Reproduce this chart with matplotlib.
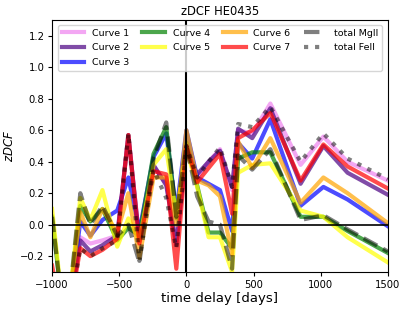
import matplotlib
matplotlib.use("Agg")
import matplotlib.pyplot as plt

# time lags of the zDCF bins [days]
lags = [-1000, -900, -790, -715, -625, -515, -432, -350, -245, -150, -75, 0,
        80, 165, 250, 340, 385, 490, 625, 850, 1020, 1200, 1500]

curve1 = [-0.35, -0.7, -0.08, -0.12, -0.10, -0.07, 0.56, -0.10, 0.37, 0.26, -0.12, 0.50,
          0.30, 0.40, 0.48, 0.22, 0.60, 0.58, 0.77, 0.38, 0.56, 0.40, 0.28]
curve2 = [-0.35, -0.7, -0.10, -0.17, -0.13, -0.07, 0.57, -0.10, 0.38, 0.25, -0.13, 0.48,
          0.32, 0.40, 0.47, 0.24, 0.61, 0.55, 0.74, 0.26, 0.50, 0.33, 0.19]
curve3 = [-0.40, -0.7, 0.02, -0.07, 0.03, 0.09, 0.30, -0.04, 0.43, 0.58, 0.08, 0.60,
          0.30, 0.26, 0.22, -0.04, 0.52, 0.42, 0.67, 0.12, 0.24, 0.16, -0.01]
curve4 = [0.05, -0.7, 0.12, 0.02, 0.10, -0.10, -0.02, -0.07, 0.45, 0.62, 0.04, 0.52,
          0.25, -0.05, -0.05, -0.15, 0.42, 0.46, 0.46, 0.05, 0.05, -0.04, -0.18]
curve5 = [0.10, -0.7, 0.17, 0.03, 0.22, -0.14, 0.04, -0.10, 0.38, 0.48, 0.06, 0.48,
          0.24, -0.08, -0.08, -0.30, 0.33, 0.38, 0.39, 0.09, 0.05, -0.08, -0.24]
curve6 = [-0.40, -0.7, 0.08, -0.08, 0.10, -0.05, 0.20, -0.21, 0.30, 0.30, 0.00, 0.60,
          0.28, 0.25, 0.18, -0.19, 0.53, 0.36, 0.55, 0.14, 0.30, 0.20, 0.01]
curve7 = [-0.26, -0.7, -0.15, -0.20, -0.16, -0.09, 0.57, -0.12, 0.34, 0.32, -0.28, 0.50,
          0.27, 0.36, 0.45, 0.07, 0.55, 0.60, 0.71, 0.28, 0.51, 0.37, 0.23]
total_mgii = [0.05, -0.7, 0.20, 0.00, 0.12, -0.07, 0.00, -0.24, 0.42, 0.65, 0.05, 0.50,
              0.18, 0.02, 0.00, -0.28, 0.44, 0.35, 0.48, 0.03, 0.06, -0.03, -0.17]
total_feii = [-0.35, -0.7, -0.15, -0.20, -0.15, -0.10, 0.58, -0.23, 0.35, 0.17, -0.15, 0.50,
              0.30, 0.40, 0.49, 0.24, 0.64, 0.62, 0.75, 0.40, 0.58, 0.42, 0.29]

curves = [curve1, curve2, curve3, curve4, curve5, curve6, curve7]
names = ["Curve %d" % (i + 1) for i in range(7)]
clrs = ['violet', 'indigo', 'blue', 'green', 'yellow', 'orange', 'red']

fig = plt.figure(figsize=(4.07, 3.10), dpi=100)
ax = fig.add_axes([0.128, 0.123, 0.825, 0.812])

for c, n, col in zip(curves, names, clrs):
    ax.plot(lags, c, color=col, lw=3, alpha=0.7, label=n)
ax.plot(lags, total_mgii, color='k', lw=3, alpha=0.5, ls='--', label='total MgII')
ax.plot(lags, total_feii, color='k', lw=3, alpha=0.5, ls=':', label='total FeII')

ax.axhline(0, color='k', lw=1.2, zorder=5)
ax.axvline(0, color='k', lw=1.5, zorder=5)

ax.set_xlim(-1000, 1500)
ax.set_ylim(-0.3, 1.3)
ax.tick_params(labelsize=7.2, length=3, pad=2.5)
ax.set_title("zDCF HE0435", fontsize=8.3, pad=4)
ax.set_xlabel("time delay [days]", fontsize=9.5, labelpad=2)
ax.set_ylabel("$zDCF$", fontsize=8.5, labelpad=3)
ax.legend(loc='upper center', ncol=4, fontsize=6.8, handlelength=2.4,
          columnspacing=1.4, labelspacing=0.6)

plt.savefig("out.png", dpi=100)
